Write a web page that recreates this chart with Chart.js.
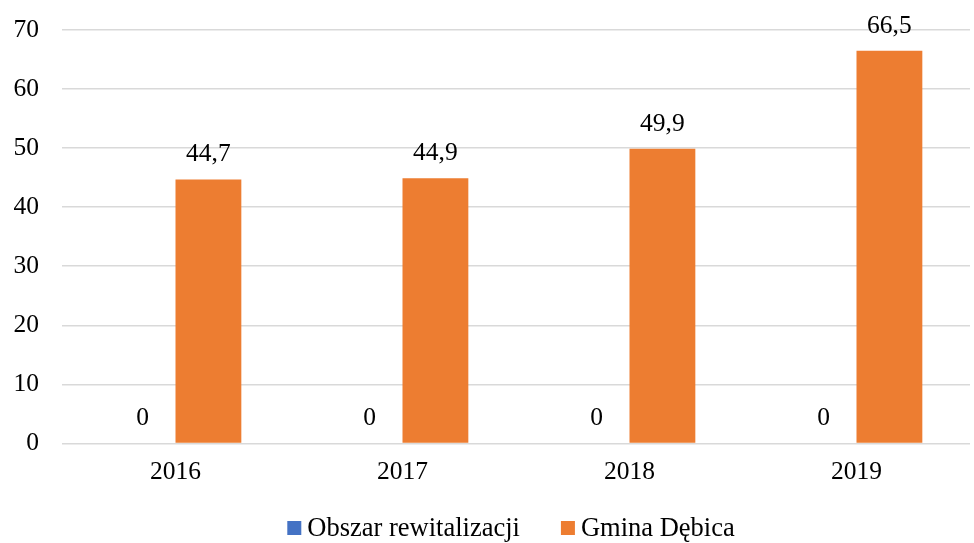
<!DOCTYPE html>
<html>
<head>
<meta charset="utf-8">
<script src="https://cdn.jsdelivr.net/npm/chart.js@4/dist/chart.umd.min.js"></script>
<style>
  html, body { margin: 0; padding: 0; background: #ffffff; }
  #wrap { width: 974px; height: 543px; }
</style>
</head>
<body>
<div id="wrap"><canvas id="chart"></canvas></div>
<script>
const years = ["2016", "2017", "2018", "2019"];
const obszar = [0, 0, 0, 0];
const gmina = [44.7, 44.9, 49.9, 66.5];

// value labels over the bars, polish decimal comma
const valueLabels = {
  id: "valueLabels",
  afterDatasetsDraw(chart) {
    const ctx = chart.ctx;
    ctx.save();
    ctx.font = "25.5px 'Liberation Serif'";
    ctx.fillStyle = "#000000";
    ctx.textAlign = "center";
    ctx.textBaseline = "bottom";
    chart.data.datasets.forEach((ds, i) => {
      chart.getDatasetMeta(i).data.forEach((bar, j) => {
        const txt = String(ds.data[j]).replace(".", ",");
        ctx.fillText(txt, bar.x, bar.y - 12);
      });
    });
    ctx.restore();
  }
};

// legend drawn by hand: small square, tight gap, centred a bit left of the plot
const bottomLegend = {
  id: "bottomLegend",
  afterDraw(chart) {
    const ctx = chart.ctx;
    const box = 14, gap = 6, spacing = 41;
    ctx.save();
    ctx.font = "26.5px 'Liberation Serif'";
    ctx.textBaseline = "alphabetic";
    ctx.textAlign = "left";
    const items = chart.data.datasets.map(ds => ({
      text: ds.label, color: ds.backgroundColor, w: ctx.measureText(ds.label).width
    }));
    const total = items.reduce((s, it) => s + box + gap + it.w, 0) + spacing * (items.length - 1);
    const mid = (chart.chartArea.left + chart.chartArea.right) / 2 - 5;
    let x = mid - total / 2;
    const base = 536;
    items.forEach(it => {
      ctx.fillStyle = it.color;
      ctx.fillRect(x, base - box - 1, box, box);
      ctx.fillStyle = "#000000";
      ctx.fillText(it.text, x + box + gap, base);
      x += box + gap + it.w + spacing;
    });
    ctx.restore();
  }
};

const serif = { family: "'Liberation Serif'", size: 25.5 };

new Chart(document.getElementById("chart"), {
  type: "bar",
  data: {
    labels: years,
    datasets: [{
      label: "Obszar rewitalizacji",
      data: obszar,
      backgroundColor: "#4472c4"
    }, {
      label: "Gmina Dębica",
      data: gmina,
      backgroundColor: "#ed7d31"
    }]
  },
  options: {
    animation: false,
    responsive: true,
    maintainAspectRatio: false,
    layout: { padding: { left: 0, right: 4, top: 30, bottom: 49 } },
    datasets: { bar: { categoryPercentage: 0.58, barPercentage: 1 } },
    plugins: {
      legend: { display: false },
      tooltip: { enabled: false }
    },
    scales: {
      x: {
        grid: { display: false },
        border: { display: false },
        ticks: { color: "#000000", font: serif, padding: 6 }
      },
      y: {
        min: 0,
        max: 70,
        afterFit: (scale) => { scale.width = 62; scale.paddingTop = 0; },
        ticks: { stepSize: 10, color: "#000000", font: serif, padding: 23 },
        grid: { color: "#d9d9d9", lineWidth: 1.5, drawTicks: false },
        border: { display: false }
      }
    }
  },
  plugins: [valueLabels, bottomLegend]
});
</script>
</body>
</html>
